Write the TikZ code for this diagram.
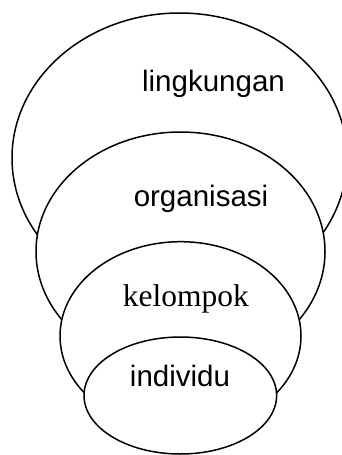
\documentclass[tikz,border=0pt]{standalone}
\usepackage{fontspec}
\setmainfont{Liberation Sans}
\newfontfamily\serifface{Liberation Serif}
\usetikzlibrary{shapes.geometric}
\begin{document}
\begin{tikzpicture}[x=1pt,y=-1pt,
  ring/.style={ellipse,draw=black,fill=white,line width=1.5pt,inner sep=0pt},
  label/.style={anchor=base,inner sep=0pt,font=\fontsize{29.5}{34}\selectfont}]
  \useasboundingbox (0,0) rectangle (342,455);
  \clip (0,0) rectangle (342,455);
  % nested levels, largest drawn first
  \node[ring,minimum width=335pt,minimum height=290pt] (env) at (179.5,158) {};
  \node[ring,minimum width=289pt,minimum height=239pt] (org) at (180.5,251.5) {};
  \node[ring,minimum width=241pt,minimum height=188.6pt] (grp) at (180.5,336) {};
  \node[ring,minimum width=192.6pt,minimum height=117pt] (ind) at (180.3,395.5) {};
  % level names
  \node[label] (tenv) at (213.5,91) {lingkungan};
  \node[label] (torg) at (201,206) {organisasi};
  \node[label,font=\serifface\fontsize{31.5}{36}\selectfont] (tgrp) at (185.8,306) {kelompok};
  \node[label] (tind) at (180,386.7) {individu};
\end{tikzpicture}
\end{document}
